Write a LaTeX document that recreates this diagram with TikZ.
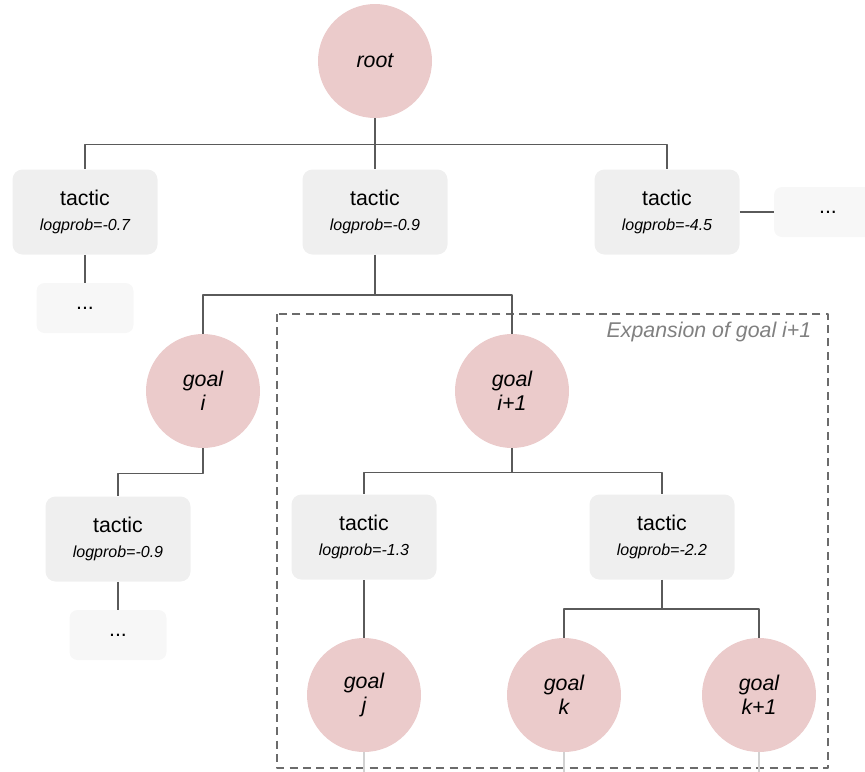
\documentclass[tikz,border=0pt]{standalone}
\usepackage{fontspec}
\setmainfont{Liberation Sans}
\definecolor{goalfill}{HTML}{EBCBCB}
\definecolor{tacfill}{HTML}{EFEFEF}
\definecolor{dotfill}{HTML}{F7F7F7}
\definecolor{linkgray}{HTML}{5A5A5A}
\newcommand\logp[1]{{\fontsize{12}{14}\selectfont\itshape logprob=#1}}
\begin{document}
\begin{tikzpicture}[x=.75pt, y=-.75pt, font=\fontsize{16}{19}\selectfont, line join=round,
	goal/.style={circle, fill=goalfill, minimum size=85.5pt, inner sep=0pt, align=center, font=\fontsize{16}{18}\selectfont\itshape},
	tac/.style={rounded corners=7.5pt, fill=tacfill, minimum width=108.75pt, minimum height=63.75pt, align=center},
	more/.style={rounded corners=6pt, fill=dotfill, minimum width=72.75pt, minimum height=37.5pt},
	link/.style={draw=linkgray, line width=1.1pt},
	stub/.style={draw=gray!35, line width=.8pt}]
	\clip (0,0) rectangle (865,772);
	% expansion frame
	\draw[linkgray!90, line width=1.3pt, dash pattern=on 6pt off 4pt] (277,314) rectangle (828,768);
	\node[anchor=east, text=gray, font=\fontsize{16}{19}\selectfont\itshape] (exp) at (816,332) {Expansion of goal i+1};
	\node[goal] (root) at (375,61) {root};
	\node[tac] (t1) at (85,212) {tactic\\\logp{-0.7}};
	\node[tac] (t2) at (375,212) {tactic\\\logp{-0.9}};
	\node[tac] (t3) at (667,212) {tactic\\\logp{-4.5}};
	\node[more] (m1) at (85,308) {...};
	\node[more, minimum width=81pt] (m2) at (828,212) {...};
	\node[goal] (gi) at (203,391) {goal\\i};
	\node[goal] (gii) at (512,391) {goal\\i+1};
	\node[tac] (t4) at (118,539) {tactic\\\logp{-0.9}};
	\node[more] (m3) at (118,635) {...};
	\node[tac] (t5) at (364,537) {tactic\\\logp{-1.3}};
	\node[tac] (t6) at (662,537) {tactic\\\logp{-2.2}};
	\node[goal] (gj) at (364,695) {goal\\j};
	\node[goal] (gk) at (564,695) {goal\\k};
	\node[goal] (gkk) at (759,695) {goal\\k+1};
	\foreach \c in {t1,t2,t3} \draw[link] (root.south) -- ++(0,26) -| (\c.north);
	\foreach \c in {gi,gii} \draw[link] (t2.south) -- ++(0,40) -| (\c.north);
	\draw[link] (gi.south) -- ++(0,25) -| (t4.north);
	\foreach \c in {t5,t6} \draw[link] (gii.south) -- ++(0,24) -| (\c.north);
	\foreach \c in {gk,gkk} \draw[link] (t6.south) -- ++(0,29) -| (\c.north);
	\draw[link] (t5.south) -- (gj.north);
	\draw[link] (t1.south) -- (m1.north);
	\draw[link] (t4.south) -- (m3.north);
	\draw[link] (t3.east) -- (m2.west);
	\foreach \c in {gj,gk,gkk} \draw[stub] (\c.south) -- ++(0,25);
\end{tikzpicture}
\end{document}
